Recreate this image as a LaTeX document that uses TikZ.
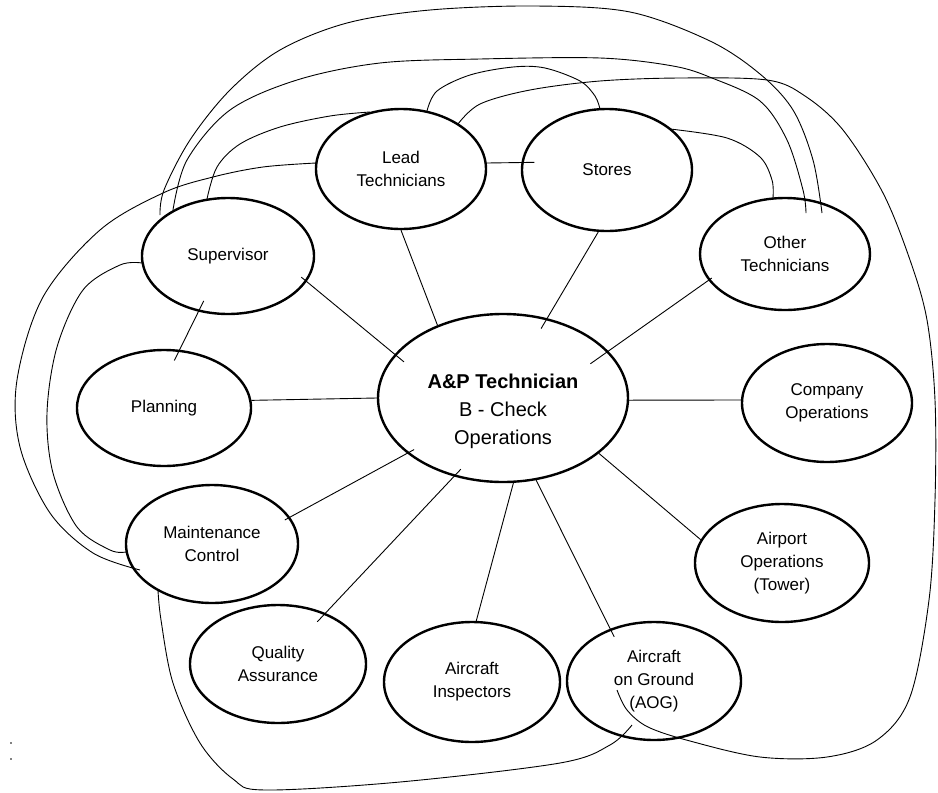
\documentclass[tikz,border=0pt]{standalone}
\usepackage{fontspec}
\usetikzlibrary{shapes.geometric,calc}
\newfontfamily\arialf{Liberation Sans}
\newcommand\bubfont{\arialf\fontsize{17}{23}\selectfont}
\newcommand\ctrfont{\arialf\fontsize{20}{28}\selectfont}
\tikzset{
  bub/.style={draw, line width=2.4pt, ellipse, inner sep=0pt, align=center, font=\bubfont},
  link/.style={line width=0.9pt, line join=round},
  arc/.style={line width=0.9pt, line join=round, smooth, tension=0.55},
}
\begin{document}
\begin{tikzpicture}[x=1pt,y=-1pt]
\useasboundingbox (0,0) rectangle (938,793);
% ellipses
\node[bub, minimum width=170pt, minimum height=120pt] (lead) at (401,169) {Lead\\Technicians};
\node[bub, minimum width=170pt, minimum height=122pt] (stores) at (607,170) {Stores};
\node[bub, minimum width=170pt, minimum height=112pt] (other) at (785,254) {Other\\Technicians};
\node[bub, minimum width=172pt, minimum height=116pt] (super) at (228,256) {Supervisor};
\node[bub, minimum width=174pt, minimum height=116pt] (plan) at (164,408) {Planning};
\node[bub, minimum width=172pt, minimum height=118pt] (mc) at (212,544) {Maintenance\\Control};
\node[bub, minimum width=176pt, minimum height=118pt] (qa) at (278,664) {Quality\\Assurance};
\node[bub, minimum width=176pt, minimum height=120pt] (insp) at (472,682) {Aircraft\\Inspectors};
\node[bub, minimum width=174pt, minimum height=118pt] (aog) at (654,681) {Aircraft\\on Ground\\(AOG)};
\node[bub, minimum width=174pt, minimum height=118pt] (tower) at (782,563) {Airport\\Operations\\(Tower)};
\node[bub, minimum width=170pt, minimum height=118pt] (comp) at (827,403) {Company\\Operations};
\node[bub, minimum width=250pt, minimum height=168pt] (center) at (503,398) {};
\node[font=\ctrfont, align=center, inner sep=0pt] (ctext) at (503,411) {{\bfseries A\&P Technician}\\B - Check\\Operations};
% spokes
\draw[link] (lead.-90) -- (center.132);
\draw[link, shorten >=-12pt] (stores.262.5) -- (center.61.7);
\draw[link, shorten <=-4pt, shorten >=-22pt] (other.199.3) -- (center.24.8);
\draw[link, shorten <=-7pt, shorten >=-12pt] (super.-18.4) -- (center.158.3);
\draw[link] (center.-1) -- (comp.178);
\draw[link] (plan.5) -- (center.180);
\draw[link, shorten <=-12pt, shorten >=-12pt] (super.-118) -- (plan.75);
\draw[link, shorten >=-13pt] (lead.4) -- (stores.175.3);
\draw[link, shorten <=-6pt, shorten >=-8pt] (mc.19.6) -- (center.210.3);
\draw[link, shorten <=-12pt, shorten >=-10pt] (qa.47) -- (center.238.7);
\draw[link] (insp.86) -- (center.-83.9);
\draw[link, shorten <=-9pt] (aog.130.8) -- (center.-68.7);
\draw[link] (tower.164) -- (center.-30.1);
% curve end points
\coordinate (a0) at ($(super.center)+(-68,-41)$);
\coordinate (a1) at ($(other.center)+(37,-41)$);
\coordinate (b0) at ($(super.center)+(-55,-46)$);
\coordinate (b1) at ($(other.center)+(21,-41)$);
\coordinate (s0) at ($(super.center)+(-21,-57)$);
\coordinate (s1) at ($(lead.center)+(-31,-57)$);
\coordinate (ls0) at ($(lead.center)+(26,-58)$);
\coordinate (ls1) at ($(stores.center)+(-7,-61)$);
\coordinate (g0) at ($(lead.center)+(57,-45)$);
\coordinate (g1) at ($(aog.center)+(-37,9)$);
\coordinate (so0) at ($(stores.center)+(63,-41)$);
\coordinate (so1) at ($(other.center)+(-12,-56)$);
\coordinate (l0) at ($(lead.center)+(-85,-6)$);
\coordinate (l1) at ($(mc.center)+(-72,26)$);
\coordinate (m0) at ($(super.center)+(-86,7)$);
\coordinate (m1) at ($(mc.center)+(-86,8)$);
\coordinate (c0) at ($(mc.center)+(-54,46)$);
\coordinate (c1) at ($(aog.center)+(-22,44)$);
% curves
\draw[link] plot[arc] coordinates {(a0) (164,190) (190,140) (230,90) (280,50) (347,23) (430,10) (535,6) (630,12) (710,41) (760,74) (793,110) (813,160) (a1)};
\draw[link] plot[arc] coordinates {(b0) (187,160) (230,110) (297,80) (380,63) (480,59) (600,58) (673,66) (712,78) (760,101) (787,140) (803,190) (b1)};
\draw[link] plot[arc] coordinates {(s0) (217,167) (240,144) (280,127) (330,116) (s1)};
\draw[link] plot[arc] coordinates {(ls0) (437,91) (470,75) (513,67) (545,68) (580,81) (595,96) (ls1)};
\draw[link] plot[arc] coordinates {(g0) (480,104) (530,90) (600,81) (680,78) (767,80) (805,96) (843,130) (883,193) (910,260) (927,320) (935,400) (935,500) (929,600) (910,697) (877,740) (827,757) (760,757) (690,741) (648,727) (627,710) (g1)};
\draw[link] plot[arc] coordinates {(so0) (727,138) (760,157) (772,180) (so1)};
\draw[link] plot[arc] coordinates {(l0) (263,167) (213,177) (163,193) (100,230) (43,297) (17,380) (20,447) (50,513) (93,553) (l1)};
\draw[link] plot[arc] coordinates {(m0) (120,265) (83,290) (57,347) (47,413) (53,473) (77,527) (110,550) (m1)};
\draw[link] plot[arc] coordinates {(c0) (161,620) (173,683) (200,743) (233,779) (265,790) (400,782) (560,763) (610,745) (c1)};
% stray marks
\fill (11,743) circle (0.9pt);
\fill (11,759) circle (0.9pt);
\end{tikzpicture}
\end{document}
